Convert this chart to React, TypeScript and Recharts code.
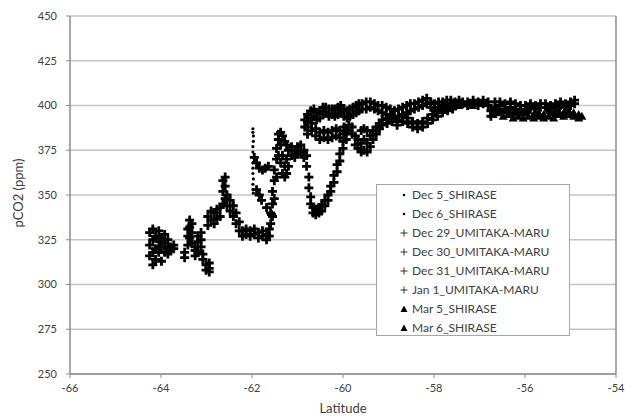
import React from 'react';
import { ScatterChart, Scatter, XAxis, YAxis, CartesianGrid, ReferenceLine } from 'recharts';

type P = [number, number];

const xTicks = [-66, -64, -62, -60, -58, -56, -54];
const yTicks = [250, 275, 300, 325, 350, 375, 400, 425, 450];

const seriesNames = [
  'Dec 5_SHIRASE',
  'Dec 6_SHIRASE',
  'Dec 29_UMITAKA-MARU',
  'Dec 30_UMITAKA-MARU',
  'Dec 31_UMITAKA-MARU',
  'Jan 1_UMITAKA-MARU',
  'Mar 5_SHIRASE',
  'Mar 6_SHIRASE',
];

const dec5: P[] = [
  [-61.98, 387], [-61.98, 385], [-61.97, 383], [-61.97, 380], [-61.98, 377], [-61.98, 374], [-61.97, 371], [-61.98, 368],
];
const dec6: P[] = [
  [-61.98, 365], [-61.98, 362], [-61.97, 359], [-61.98, 356], [-61.98, 353], [-61.97, 351],
];

const dec29: P[] = [
  [-64.25, 329], [-64.25, 322], [-64.25, 316],
  [-64.18, 331], [-64.18, 325], [-64.18, 311], [-64.18, 318],
  [-64.12, 327], [-64.12, 320], [-64.12, 314],
  [-64.05, 330], [-64.05, 324], [-64.05, 318],
  [-63.99, 326], [-63.99, 321], [-63.99, 313],
  [-63.92, 323], [-63.92, 328], [-63.92, 318],
  [-63.85, 325], [-63.85, 320], [-63.85, 317],
  [-63.79, 321], [-63.79, 319],
  [-63.72, 322], [-63.72, 320],
  [-63.48, 318], [-63.48, 315],
  [-63.41, 322], [-63.41, 327], [-63.41, 331],
  [-63.37, 336], [-63.37, 332], [-63.37, 326],
  [-63.32, 334], [-63.32, 329], [-63.32, 323],
  [-63.25, 319], [-63.25, 316], [-63.25, 321],
  [-63.19, 318], [-63.19, 324], [-63.19, 327],
  [-63.12, 329], [-63.12, 325], [-63.12, 321],
  [-63.08, 317], [-63.08, 314],
  [-63.01, 311], [-63.01, 308],
  [-62.94, 307], [-62.94, 309], [-62.94, 312],
  [-62.97, 333], [-62.97, 338],
  [-62.90, 336], [-62.90, 341],
  [-62.83, 334], [-62.83, 340],
  [-62.77, 337], [-62.77, 342],
  [-62.70, 338], [-62.70, 343],
  [-62.64, 345], [-62.64, 352], [-62.64, 358],
  [-62.59, 348], [-62.59, 355], [-62.59, 360],
  [-62.55, 344], [-62.55, 350],
  [-62.48, 341], [-62.48, 347],
  [-62.41, 338], [-62.41, 344],
  [-62.35, 334], [-62.35, 340],
  [-62.28, 330], [-62.28, 335],
  [-62.21, 330], [-62.21, 327],
  [-62.13, 331], [-62.13, 328],
  [-62.04, 330], [-62.04, 327],
  [-61.95, 331], [-61.95, 328],
  [-61.86, 329], [-61.86, 326],
  [-61.77, 330], [-61.77, 327],
  [-61.68, 328], [-61.68, 325],
  [-61.62, 327], [-61.62, 331],
];

const dec30: P[] = [
  [-61.95, 371], [-61.90, 368], [-61.84, 365], [-61.77, 364], [-61.71, 365], [-61.64, 366],
  [-61.90, 353], [-61.84, 350], [-61.79, 347], [-61.68, 343], [-61.57, 339],
  [-61.59, 334], [-61.59, 340],
  [-61.55, 345], [-61.55, 352], [-61.55, 338],
  [-61.51, 358], [-61.51, 364], [-61.51, 348],
  [-61.46, 370], [-61.46, 376], [-61.46, 360],
  [-61.42, 381], [-61.42, 372], [-61.42, 384],
  [-61.37, 385], [-61.37, 378], [-61.37, 368],
  [-61.33, 383], [-61.33, 372], [-61.33, 362],
  [-61.28, 380], [-61.28, 366], [-61.28, 360],
  [-61.24, 378], [-61.24, 370], [-61.24, 362],
  [-61.20, 375], [-61.20, 366],
  [-61.13, 372], [-61.13, 377],
  [-61.06, 371], [-61.06, 375],
  [-61.00, 373], [-61.00, 377],
  [-60.93, 374], [-60.93, 378],
  [-60.86, 375], [-60.86, 371],
  [-60.80, 372], [-60.80, 366],
  [-60.75, 360], [-60.75, 354],
  [-60.71, 349], [-60.71, 345],
  [-60.66, 343], [-60.66, 340],
  [-60.60, 339], [-60.60, 342],
  [-60.53, 340], [-60.53, 343],
  [-60.47, 341], [-60.47, 344],
  [-60.40, 344], [-60.40, 347],
  [-60.33, 347], [-60.33, 350],
  [-60.27, 352], [-60.27, 355],
  [-60.20, 357], [-60.20, 361],
  [-60.13, 363], [-60.13, 367],
  [-60.07, 369], [-60.07, 373],
  [-60.00, 376], [-60.00, 380],
  [-59.93, 381], [-59.93, 385],
  [-59.87, 386], [-59.87, 389],
  [-60.78, 384], [-60.78, 388], [-60.69, 386], [-60.69, 390], [-60.60, 383], [-60.60, 387],
  [-60.51, 381], [-60.51, 385], [-60.42, 382], [-60.42, 386], [-60.33, 381], [-60.33, 385],
  [-60.24, 382], [-60.24, 386], [-60.15, 383], [-60.15, 387], [-60.07, 382], [-60.07, 386],
  [-59.98, 384], [-59.98, 388],
  [-59.80, 388], [-59.80, 384],
  [-59.73, 383], [-59.73, 378],
  [-59.67, 376], [-59.67, 381],
  [-59.60, 374], [-59.60, 379], [-59.60, 386],
  [-59.54, 375], [-59.54, 381], [-59.54, 387],
  [-59.47, 374], [-59.47, 379], [-59.47, 386],
  [-59.40, 377], [-59.40, 383],
  [-59.34, 381], [-59.34, 386],
  [-59.27, 384], [-59.27, 388],
  [-59.20, 387], [-59.20, 390],
  [-59.14, 389], [-59.14, 392],
  [-59.03, 390], [-59.03, 393],
  [-58.92, 391], [-58.92, 394],
  [-58.81, 389], [-58.81, 392],
  [-58.69, 391], [-58.69, 394],
  [-58.58, 390], [-58.58, 393],
  [-58.47, 388], [-58.47, 391],
  [-58.36, 387], [-58.36, 390],
  [-58.25, 388], [-58.25, 391],
  [-58.14, 390], [-58.14, 393],
  [-58.03, 392], [-58.03, 395],
  [-57.92, 394], [-57.92, 397],
  [-57.81, 396], [-57.81, 398],
  [-57.70, 397], [-57.70, 399],
  [-57.59, 398], [-57.59, 400],
];

const dec31: P[] = [
  [-60.84, 388], [-60.84, 392], [-60.78, 391], [-60.78, 395], [-60.71, 393], [-60.71, 397],
  [-60.64, 394], [-60.64, 398], [-60.58, 392], [-60.58, 396], [-60.51, 393], [-60.51, 397],
  [-60.44, 395], [-60.44, 399], [-60.38, 396], [-60.38, 399], [-60.31, 394], [-60.31, 398],
  [-60.24, 395], [-60.24, 398], [-60.18, 394], [-60.18, 398], [-60.11, 395], [-60.11, 399],
  [-60.05, 396], [-60.05, 400], [-59.98, 394], [-59.98, 398], [-59.91, 393], [-59.91, 397],
  [-59.85, 394], [-59.85, 398], [-59.78, 395], [-59.78, 399], [-59.71, 396], [-59.71, 400],
  [-59.65, 397], [-59.65, 401], [-59.58, 398], [-59.58, 401], [-59.49, 398], [-59.49, 402],
  [-59.40, 399], [-59.40, 402], [-59.31, 398], [-59.31, 401], [-59.23, 397], [-59.23, 400],
  [-59.14, 396], [-59.14, 400], [-59.05, 395], [-59.05, 399], [-58.96, 394], [-58.96, 398],
  [-58.87, 393], [-58.87, 397], [-58.78, 394], [-58.78, 398], [-58.69, 395], [-58.69, 399],
  [-58.60, 396], [-58.60, 400], [-58.52, 397], [-58.52, 401], [-58.43, 398], [-58.43, 401],
  [-58.34, 399], [-58.34, 402], [-58.25, 400], [-58.25, 403], [-58.16, 401], [-58.16, 404],
  [-58.07, 399], [-58.07, 402], [-57.99, 398], [-57.99, 401], [-57.90, 399], [-57.90, 402],
  [-57.81, 400], [-57.81, 402], [-57.72, 400], [-57.72, 403], [-57.63, 401], [-57.63, 403],
  [-57.54, 400], [-57.54, 402], [-57.45, 401], [-57.45, 403], [-57.37, 401], [-57.37, 402],
  [-57.26, 400], [-57.26, 402], [-57.14, 401], [-57.14, 403], [-57.03, 400], [-57.03, 402],
  [-56.92, 401], [-56.92, 403], [-56.81, 400], [-56.81, 402], [-56.75, 397], [-56.75, 394],
];

const jan1: P[] = [
  [-56.66, 399], [-56.66, 402], [-56.55, 400], [-56.55, 402], [-56.44, 398], [-56.44, 401],
  [-56.32, 399], [-56.32, 402], [-56.21, 398], [-56.21, 401], [-56.10, 398], [-56.10, 400],
  [-55.99, 397], [-55.99, 400], [-55.88, 399], [-55.88, 401], [-55.77, 398], [-55.77, 400],
  [-55.66, 399], [-55.66, 401], [-55.55, 399], [-55.55, 401], [-55.44, 398], [-55.44, 400],
  [-55.33, 399], [-55.33, 401], [-55.22, 400], [-55.22, 402], [-55.11, 399], [-55.11, 401],
  [-55.00, 400], [-55.00, 402], [-54.91, 401], [-54.91, 403],
];

const mar5: P[] = [
  [-56.70, 395], [-56.70, 397], [-56.59, 396], [-56.59, 398], [-56.48, 394], [-56.48, 397],
  [-56.37, 395], [-56.37, 397], [-56.26, 393], [-56.26, 396], [-56.15, 394], [-56.15, 396],
  [-56.04, 393], [-56.04, 396], [-55.93, 394], [-55.93, 397], [-55.81, 393], [-55.81, 395],
  [-55.70, 394], [-55.70, 396], [-55.59, 393], [-55.59, 395], [-55.48, 394], [-55.48, 397],
  [-55.37, 393], [-55.37, 396], [-55.26, 395], [-55.26, 397], [-55.15, 394], [-55.15, 396],
  [-55.04, 395], [-55.04, 397], [-54.93, 394], [-54.93, 396], [-54.82, 393], [-54.82, 395],
  [-54.75, 394],
];

const mar6: P[] = [
  [-57.85, 399], [-57.75, 400], [-57.65, 400], [-57.55, 401], [-57.45, 400], [-57.35, 401],
  [-57.25, 401], [-57.15, 400],
];

const toPts = (arr: P[]) => arr.map(([lat, pco2]) => ({ lat, pco2 }));

const TEXT = '#404040';
const AXIS = '#8c8c8c';
const FONT = 'Lato, "Open Sans", sans-serif';

const PlusShape = (p: any) => {
  const { cx, cy } = p;
  if (cx == null || cy == null) return null;
  return (
    <path
      d={`M${cx - 4.5},${cy}H${cx + 4.5}M${cx},${cy - 4.5}V${cy + 4.5}`}
      stroke="#000"
      strokeWidth={2.8}
      fill="none"
    />
  );
};

const DotShape = (p: any) => {
  const { cx, cy } = p;
  if (cx == null || cy == null) return null;
  return <circle cx={cx} cy={cy} r={1.6} fill="#000" />;
};

const TriShape = (p: any) => {
  const { cx, cy } = p;
  if (cx == null || cy == null) return null;
  return <path d={`M${cx},${cy - 4.5}L${cx + 4.5},${cy + 3.5}L${cx - 4.5},${cy + 3.5}Z`} fill="#000" />;
};

const YTitle = () => (
  <text
    x={18}
    y={193}
    transform="rotate(-90 18 193)"
    textAnchor="middle"
    dominantBaseline="central"
    fill={TEXT}
    fontSize={13}
    fontFamily={FONT}
  >
    pCO2 (ppm)
  </text>
);

const legendMarker = (i: number) => {
  if (i < 2) return <circle cx={5} cy={5} r={1.3} fill="#000" />;
  if (i < 6) return <path d="M1.5,5H8.5M5,1.5V8.5" stroke="#333" strokeWidth={1} fill="none" />;
  return <path d="M5,1.5L8.5,8L1.5,8Z" fill="#000" />;
};

export default function App() {
  const series = [
    { data: dec5, shape: DotShape },
    { data: dec6, shape: DotShape },
    { data: dec29, shape: PlusShape },
    { data: dec30, shape: PlusShape },
    { data: dec31, shape: PlusShape },
    { data: jan1, shape: PlusShape },
    { data: mar5, shape: TriShape },
    { data: mar6, shape: TriShape },
  ];
  return (
    <div style={{ position: 'absolute', left: 0, top: 0, width: 625, height: 418, background: '#fff', fontFamily: FONT }}>
      <ScatterChart width={625} height={418} margin={{ top: 16, right: 9, bottom: 0, left: 0 }}>
        <CartesianGrid vertical={false} stroke="#c4c4c4" strokeWidth={1.5} />
        <XAxis
          type="number"
          dataKey="lat"
          domain={[-66, -54]}
          ticks={xTicks}
          height={44}
          tick={{ fill: TEXT, fontSize: 11, fontFamily: FONT }}
          tickSize={4}
          tickMargin={6}
          axisLine={{ stroke: AXIS, strokeWidth: 1.5 }}
          tickLine={{ stroke: AXIS }}
          label={{ value: 'Latitude', position: 'insideBottom', offset: 5, fill: TEXT, fontSize: 13, fontFamily: FONT }}
          allowDataOverflow
        />
        <YAxis
          type="number"
          dataKey="pco2"
          domain={[250, 450]}
          ticks={yTicks}
          width={70}
          tick={{ fill: TEXT, fontSize: 11, fontFamily: FONT }}
          tickSize={4}
          tickMargin={9}
          axisLine={{ stroke: AXIS, strokeWidth: 1.5 }}
          tickLine={{ stroke: AXIS }}
          label={<YTitle />}
          allowDataOverflow
        />
        <ReferenceLine x={-54} stroke={AXIS} strokeWidth={1.5} />
        {series.map((s, i) => (
          <Scatter
            key={seriesNames[i]}
            name={seriesNames[i]}
            data={toPts(s.data)}
            shape={s.shape}
            fill="#000"
            isAnimationActive={false}
          />
        ))}
      </ScatterChart>
      <div
        style={{
          position: 'absolute',
          left: 376,
          top: 184,
          width: 194,
          height: 152,
          border: '1px solid #a6a6a6',
          background: '#fff',
          boxSizing: 'border-box',
          paddingTop: 1,
        }}
      >
        {seriesNames.map((n, i) => (
          <div key={n} style={{ height: 18.9, display: 'flex', alignItems: 'center' }}>
            <svg width={10} height={10} style={{ marginLeft: 22, flex: 'none' }}>
              {legendMarker(i)}
            </svg>
            <span style={{ marginLeft: 3, fontSize: 12, color: TEXT, whiteSpace: 'nowrap', lineHeight: '14px' }}>{n}</span>
          </div>
        ))}
      </div>
    </div>
  );
}
